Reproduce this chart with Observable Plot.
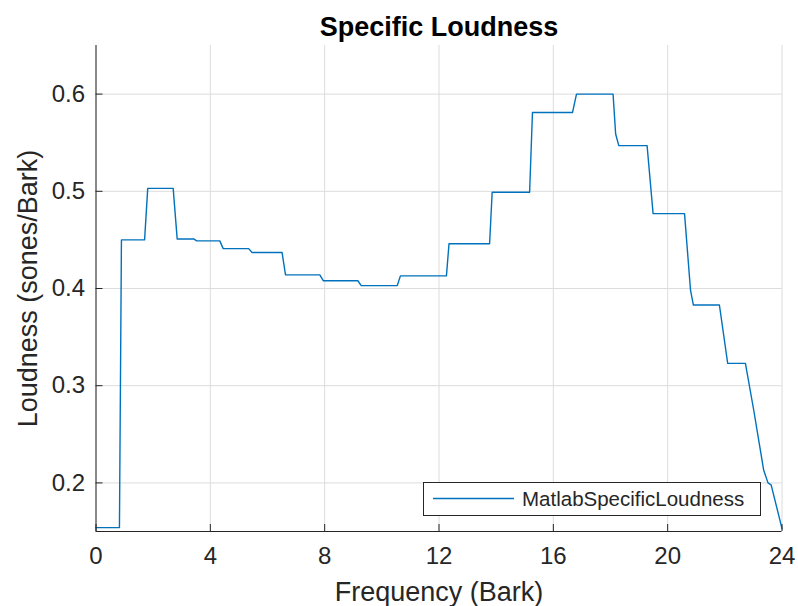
<!DOCTYPE html>
<html>
<head>
<meta charset="utf-8">
<script src="https://cdn.jsdelivr.net/npm/d3@7"></script>
<script src="https://cdn.jsdelivr.net/npm/@observablehq/plot@0.6"></script>
<style>
  html, body { margin: 0; padding: 0; background: #fff; }
  #wrap { position: relative; width: 798px; height: 606px; font-family: "Liberation Sans", Arial, Helvetica, sans-serif; }
  #legend { position: absolute; left: 423px; top: 482px; width: 338px; height: 34px; box-sizing: border-box;
            border: 1px solid #262626; background: #fff; }
  #legend svg { position: absolute; left: 0; top: 0; }
  #legend span { position: absolute; left: 98px; top: 3px; font-size: 20.5px; color: #262626; line-height: 26px; }
</style>
</head>
<body>
<div id="wrap"></div>
<script>
const freq = [0, 0.82, 0.89, 1.70, 1.81, 2.70, 2.84, 3.42, 3.52, 4.33, 4.45, 5.34, 5.46, 6.51, 6.63, 7.83, 7.95, 9.16, 9.28, 10.54, 10.65, 12.26, 12.35, 13.77, 13.86, 15.17, 15.27, 16.67, 16.81, 18.09, 18.18, 18.29, 19.28, 19.49, 20.59, 20.80, 20.90, 21.81, 22.10, 22.72, 23.01, 23.36, 23.51, 23.62, 24.0];
const loudness = [0.154, 0.154, 0.450, 0.450, 0.503, 0.503, 0.451, 0.451, 0.449, 0.449, 0.441, 0.441, 0.437, 0.437, 0.414, 0.414, 0.408, 0.408, 0.403, 0.403, 0.413, 0.413, 0.446, 0.446, 0.499, 0.499, 0.581, 0.581, 0.600, 0.600, 0.559, 0.547, 0.547, 0.477, 0.477, 0.398, 0.383, 0.383, 0.323, 0.323, 0.275, 0.213, 0.200, 0.198, 0.153];
const xTicks = [0, 4, 8, 12, 16, 20, 24];
const yTicks = [0.2, 0.3, 0.4, 0.5, 0.6];
const seriesName = "MatlabSpecificLoudness";
const titleText = "Specific Loudness";
const xLabel = "Frequency (Bark)";
const yLabel = "Loudness (sones/Bark)";

const data = freq.map((f, i) => ({f, l: loudness[i]}));
const W = 798, H = 606, mL = 95.5, mR = 16.5, mT = 45, mB = 75;
const fw = W - mL - mR, fh = H - mT - mB;
const ink = "#262626";

const chart = Plot.plot({
  width: W, height: H,
  marginLeft: mL, marginRight: mR, marginTop: mT, marginBottom: mB,
  style: {fontFamily: '"Liberation Sans", Arial, Helvetica, sans-serif', background: "#fff", overflow: "visible"},
  x: {domain: [0, 24], ticks: xTicks},
  y: {domain: [0.15, 0.65], ticks: yTicks},
  marks: [
    Plot.gridX(xTicks, {stroke: "#dcdcdc", strokeOpacity: 1}),
    Plot.gridY(yTicks, {stroke: "#dcdcdc", strokeOpacity: 1}),
    Plot.axisX(xTicks, {tickSize: 0, tickPadding: 15, fontSize: 24, color: ink, label: null, tickFormat: d => String(d)}),
    Plot.axisY(yTicks, {tickSize: 0, tickPadding: 11, fontSize: 24, color: ink, label: null, tickFormat: d3.format(".1f")}),
    Plot.line(data, {x: "f", y: "l", stroke: "#0072BD", strokeWidth: 1.4}),
    Plot.ruleX([0], {stroke: ink, strokeWidth: 1}),
    Plot.ruleY([0.15], {stroke: ink, strokeWidth: 1}),
    Plot.tickX(xTicks, {x: d => d, insetTop: fh - 7, stroke: ink}),
    Plot.tickY(yTicks, {y: d => d, insetRight: fw - 7, stroke: ink}),
    Plot.text([titleText], {frameAnchor: "top", lineAnchor: "middle", dy: -18, fontSize: 27, fontWeight: "bold", fill: "#000"}),
    Plot.text([xLabel], {frameAnchor: "bottom", lineAnchor: "middle", dy: 61, fontSize: 27, fill: ink}),
    Plot.text([yLabel], {frameAnchor: "left", textAnchor: "middle", lineAnchor: "middle", dx: -68, rotate: -90, fontSize: 27, fill: ink})
  ]
});
const wrap = document.getElementById("wrap");
wrap.appendChild(chart);

const legend = document.createElement("div");
legend.id = "legend";
legend.innerHTML = `<svg width="338" height="34"><line x1="9" x2="90" y1="15.5" y2="15.5" stroke="#0072BD" stroke-width="1.4"/></svg><span></span>`;
legend.querySelector("span").textContent = seriesName;
wrap.appendChild(legend);
</script>
</body>
</html>
